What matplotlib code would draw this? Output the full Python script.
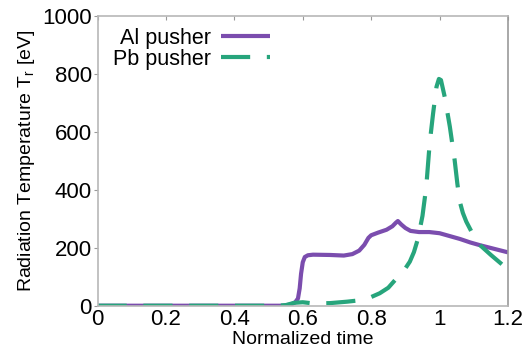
import numpy as np
import matplotlib.pyplot as plt

plt.rcParams['font.family'] = ['Liberation Sans', 'DejaVu Sans']
plt.rcParams['mathtext.fontset'] = 'custom'
plt.rcParams['mathtext.rm'] = 'Liberation Sans'
plt.rcParams['mathtext.it'] = 'Liberation Sans'

# --- Al pusher ---
t_al = [0.0, 0.50, 0.54, 0.565, 0.578, 0.586, 0.591, 0.595, 0.60, 0.606, 0.615, 0.63,
        0.68, 0.72, 0.745, 0.765, 0.78, 0.792, 0.80, 0.82, 0.845, 0.862, 0.872, 0.878,
        0.888, 0.90, 0.915, 0.94, 0.97, 1.0, 1.03, 1.06, 1.09, 1.12, 1.15, 1.18, 1.2]
T_al = [0, 0, 0, 4, 12, 25, 60, 110, 150, 168, 174, 176,
        175, 173, 178, 190, 210, 234, 243, 252, 262, 274, 286, 292,
        280, 268, 258, 254, 254, 250, 240, 230, 218, 208, 199, 190, 184]

# --- Pb pusher ---
t_pb = [0.0, 0.52, 0.55, 0.575, 0.60, 0.63, 0.68, 0.73, 0.776, 0.80, 0.825, 0.85,
        0.874, 0.895, 0.913, 0.925, 0.937, 0.95, 0.961, 0.971, 0.981, 0.991, 0.998,
        1.004, 1.015, 1.03, 1.044, 1.052, 1.059, 1.068, 1.078, 1.10, 1.12, 1.15,
        1.185, 1.2]
T_pb = [0, 0, 2, 10, 12, 8, 9, 14, 20, 30, 43, 62,
        94, 120, 152, 185, 232, 310, 410, 560, 663, 755, 782,
        778, 720, 617, 502, 420, 359, 320, 290, 240, 207, 175,
        140, 128]

fig = plt.figure(figsize=(5.26, 3.49), dpi=100)
ax = fig.add_axes([0.1854, 0.124, 0.7804, 0.831])

ax.plot(t_al, T_al, color='#7b4dae', lw=3.0, label='Al pusher', solid_capstyle='butt')
ax.plot(t_pb, T_pb, color='#27a57c', lw=3.0, ls=(0, (7, 4)), label='Pb pusher')

ax.set_xlim(0, 1.2)
ax.set_ylim(0, 1000)
ax.set_xticks([0, 0.2, 0.4, 0.6, 0.8, 1.0, 1.2])
ax.set_xticklabels(['0', '0.2', '0.4', '0.6', '0.8', '1', '1.2'])
ax.set_yticks([0, 200, 400, 600, 800, 1000])

ax.tick_params(axis='y', direction='out', length=3, color='#999999', labelsize=16, pad=1)
ax.tick_params(axis='x', direction='in', length=3, color='#999999', labelsize=16,
               bottom=False, top=True, pad=2)
for s in ax.spines.values():
    s.set_color('#b8b8b8')
    s.set_linewidth(1.2)
ax.spines['right'].set_color('#999999')

ax.set_xlabel('Normalized time', fontsize=14, labelpad=1)
ax.set_ylabel('Radiation Temperature T$_\\mathrm{r}$ [eV]', fontsize=14, labelpad=4)

ax.legend(loc='upper left', frameon=False, markerfirst=False, fontsize=15.5,
          handlelength=2.25, handletextpad=0.45, labelspacing=0.0,
          bbox_to_anchor=(0.01, 1.0), borderaxespad=0.15)

fig.savefig('out.png', dpi=100)
